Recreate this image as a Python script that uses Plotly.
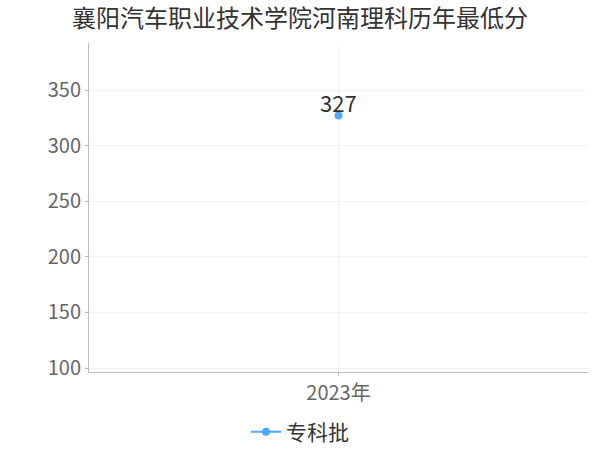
import plotly.graph_objects as go

# data
years = ["2023年"]
scores = [327]
series_name = "专科批"
title_text = "襄阳汽车职业技术学院河南理科历年最低分"
y_ticks = [100, 150, 200, 250, 300, 350]

FONT = "Noto Sans CJK SC, Microsoft YaHei, sans-serif"
BLUE = "#4fa8f9"

fig = go.Figure()
fig.add_trace(
    go.Scatter(
        x=years,
        y=scores,
        name=series_name,
        mode="lines+markers",
        marker=dict(color=BLUE, size=8),
        line=dict(color=BLUE, width=2),
    )
)

# value labels sit just above each point
for x, y in zip(years, scores):
    fig.add_annotation(
        x=x,
        y=y,
        text=str(y),
        showarrow=False,
        yanchor="middle",
        yshift=14,
        font=dict(size=22, color="#333333", family=FONT),
    )

fig.update_layout(
    width=600,
    height=450,
    margin=dict(l=89, r=12, t=43, b=78),
    paper_bgcolor="white",
    plot_bgcolor="white",
    font=dict(family=FONT, color="#666666"),
    title=dict(
        text=title_text,
        x=0.5,
        xanchor="center",
        yref="container",
        y=0.958,
        yanchor="middle",
        font=dict(size=24, color="#333333", family=FONT),
    ),
    showlegend=True,
    legend=dict(
        orientation="h",
        xref="container",
        x=0.5,
        xanchor="center",
        yref="container",
        y=0.04,
        yanchor="middle",
        font=dict(size=21, color="#333333", family=FONT),
    ),
)

fig.update_xaxes(
    type="category",
    showline=True,
    linecolor="#bbbbbb",
    linewidth=1,
    showgrid=True,
    gridcolor="#f2f2f2",
    ticks="outside",
    ticklen=3,
    tickcolor="#bbbbbb",
    tickfont=dict(size=20, color="#666666"),
    zeroline=False,
    automargin=False,
)
fig.update_yaxes(
    range=[96.4, 392.3],
    tickvals=y_ticks,
    showline=True,
    linecolor="#bbbbbb",
    linewidth=1,
    showgrid=True,
    gridcolor="#f2f2f2",
    ticks="outside",
    ticklen=3,
    tickcolor="#bbbbbb",
    tickfont=dict(size=20, color="#666666"),
    zeroline=False,
    automargin=False,
)

# drop the default body margin so the 600x450 figure fills the window
fig.write_html(
    "out.html",
    config={"displayModeBar": False},
    post_script="document.body.style.margin = '0';",
)
